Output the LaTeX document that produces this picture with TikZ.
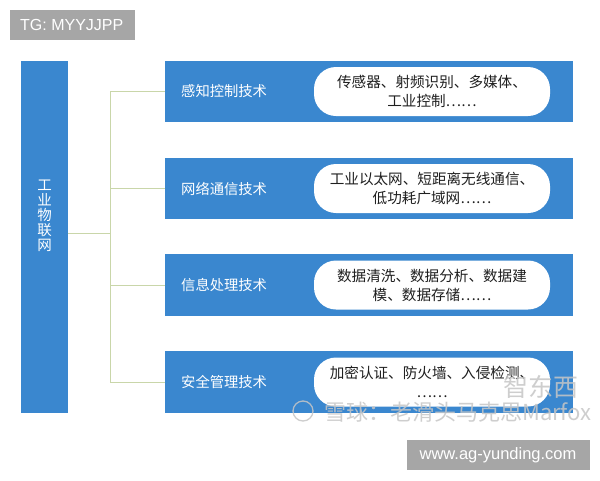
\documentclass[tikz,border=0pt]{standalone}
\usepackage{fontspec}
\setmainfont{Liberation Sans}
\newfontfamily\cjk{Noto Sans CJK SC}
\definecolor{boxblue}{HTML}{3A87CF}
\definecolor{linegreen}{HTML}{C9D6A9}
\definecolor{tagrey}{HTML}{A6A6A6}
\begin{document}
\begin{tikzpicture}[x=1pt,y=-1pt,
  bluebox/.style={fill=boxblue,draw=none,inner sep=0pt},
  cat/.style={text=white,font=\cjk\fontsize{14.3}{16}\selectfont,anchor=west,inner sep=0pt},
  pill/.style={fill=white,draw=none,rounded corners=22pt,minimum width=236pt,minimum height=49pt,
    align=center,font=\cjk\fontsize{14.6}{19}\selectfont,text=black!88,inner sep=0pt},
  conn/.style={draw=linegreen,line width=0.9pt},
  tag/.style={fill=tagrey,text=white,inner sep=0pt,anchor=north west},
  wm/.style={font=\cjk\fontsize{22}{24}\selectfont,inner sep=0pt,anchor=west,text=gray!45,opacity=0.85}]
\useasboundingbox (0,0) rectangle (600,480);
\fill[white] (0,0) rectangle (600,480);

% grey tags
\node[tag,minimum width=125pt,minimum height=30pt] (tg) at (10,10) {};
\node[text=white,font=\fontsize{16}{18}\selectfont,inner sep=0pt,anchor=west] (tgt) at (20,25) {TG: MYYJJPP};

% left box
\node[bluebox,minimum width=47pt,minimum height=352pt,anchor=north west] (iot) at (21,61) {};
\node[text=white,align=center,font=\cjk\fontsize{14.5}{15}\selectfont,inner sep=0pt] (iott) at (44.5,216) {工\\业\\物\\联\\网};

% right boxes
\node[bluebox,minimum width=408pt,minimum height=61pt,anchor=north west] (b1) at (165,61) {};
\node[bluebox,minimum width=408pt,minimum height=61pt,anchor=north west] (b2) at (165,158) {};
\node[bluebox,minimum width=408pt,minimum height=62pt,anchor=north west] (b3) at (165,254) {};
\node[bluebox,minimum width=408pt,minimum height=62pt,anchor=north west] (b4) at (165,351) {};

\node[cat] (c1) at (181,91.5) {感知控制技术};
\node[cat] (c2) at (181,188.5) {网络通信技术};
\node[cat] (c3) at (181,285) {信息处理技术};
\node[cat] (c4) at (181,382) {安全管理技术};

\node[pill] (p1) at (432,91.5) {传感器、射频识别、多媒体、\\工业控制……};
\node[pill] (p2) at (432,188.5) {工业以太网、短距离无线通信、\\低功耗广域网……};
\node[pill] (p3) at (432,285) {数据清洗、数据分析、数据建\\模、数据存储……};
\node[pill] (p4) at (432,382) {加密认证、防火墙、入侵检测、\\……};

% connectors
\coordinate (hub) at (110,233);
\draw[conn] (iot.east |- hub) -- (hub);
\draw[conn] (hub |- b1.west) -- (hub |- b4.west);
\draw[conn] (hub |- b1.west) -- (b1.west);
\draw[conn] (hub |- b2.west) -- (b2.west);
\draw[conn] (hub |- b3.west) -- (b3.west);
\draw[conn] (hub |- b4.west) -- (b4.west);

% watermarks
\node[wm,font=\cjk\fontsize{25}{26}\selectfont] (wa) at (503,387) {智东西};
\node[wm] (wb) at (324,412) {雪球：老滑头马克思Marfox};
\draw[gray!45,opacity=0.85,line width=1.3pt] (303,411) circle (10pt);

\node[tag,minimum width=183pt,minimum height=30pt] (url) at (407,440) {};
\node[text=white,font=\fontsize{16.5}{18}\selectfont,inner sep=0pt] (urlt) at (498,455) {www.ag-yunding.com};
\end{tikzpicture}
\end{document}
